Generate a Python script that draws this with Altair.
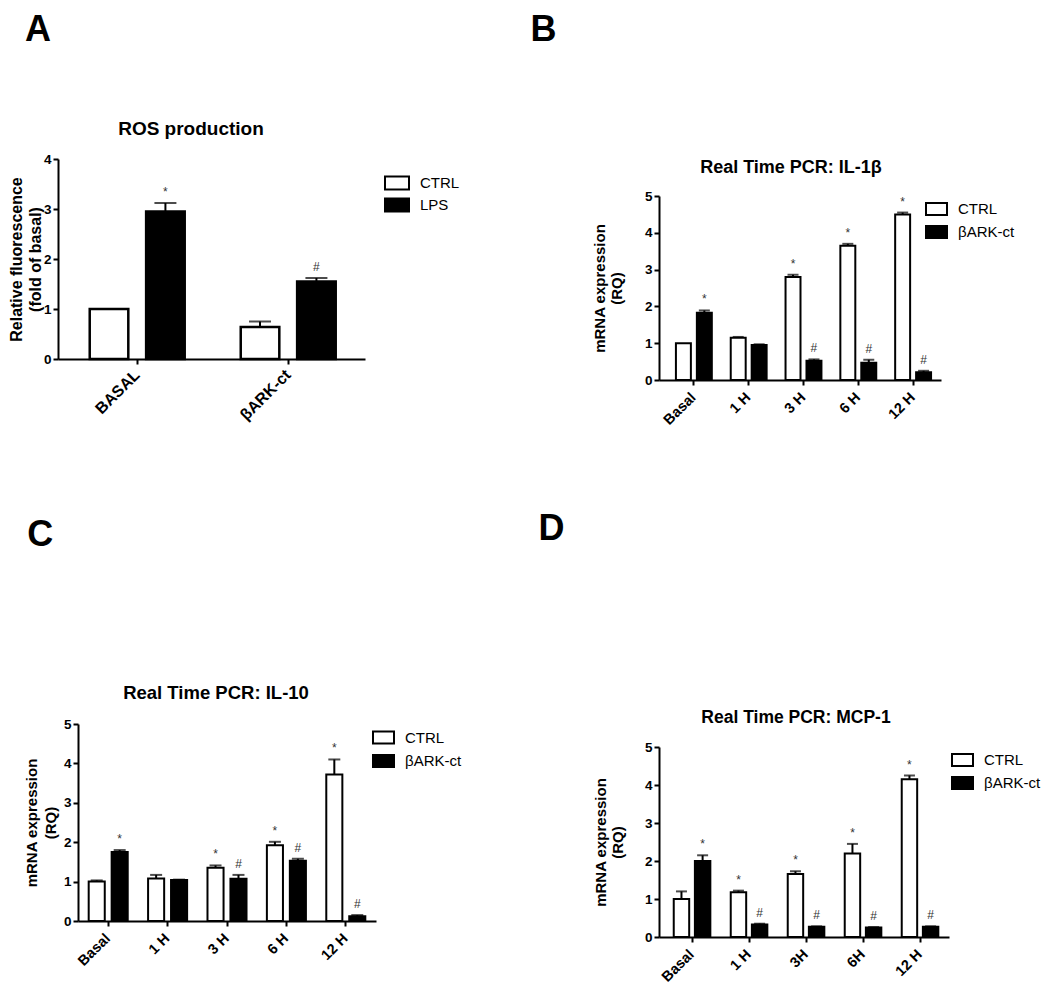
import altair as alt
import pandas as pd

FONT = "Liberation Sans"

# ---------------- data ----------------
# Panel A: ROS production
A_cats = ["BASAL", "βARK-ct"]
A_groups = ["CTRL", "LPS"]
A_ctrl = [1.00, 0.64]
A_ctrl_sem = [0.00, 0.11]
A_ctrl_sig = ["", ""]
A_trt = [2.95, 1.55]
A_trt_sem = [0.17, 0.07]
A_trt_sig = ["*", "#"]

# Panel B: IL-1beta
B_cats = ["Basal", "1 H", "3 H", "6 H", "12 H"]
B_groups = ["CTRL", "βARK-ct"]
B_ctrl = [1.00, 1.15, 2.80, 3.65, 4.50]
B_ctrl_sem = [0.00, 0.02, 0.06, 0.05, 0.05]
B_ctrl_sig = ["", "", "*", "*", "*"]
B_trt = [1.83, 0.95, 0.52, 0.47, 0.21]
B_trt_sem = [0.06, 0.02, 0.04, 0.08, 0.04]
B_trt_sig = ["*", "", "#", "#", "#"]

# Panel C: IL-10
C_cats = ["Basal", "1 H", "3 H", "6 H", "12 H"]
C_groups = ["CTRL", "βARK-ct"]
C_ctrl = [1.00, 1.08, 1.35, 1.92, 3.72]
C_ctrl_sem = [0.03, 0.09, 0.06, 0.09, 0.38]
C_ctrl_sig = ["", "", "*", "*", "*"]
C_trt = [1.75, 1.04, 1.07, 1.53, 0.12]
C_trt_sem = [0.05, 0.01, 0.10, 0.05, 0.03]
C_trt_sig = ["*", "", "#", "#", "#"]

# Panel D: MCP-1
D_cats = ["Basal", "1 H", "3H", "6H", "12 H"]
D_groups = ["CTRL", "βARK-ct"]
D_ctrl = [1.00, 1.18, 1.66, 2.20, 4.15]
D_ctrl_sem = [0.20, 0.04, 0.07, 0.25, 0.10]
D_ctrl_sig = ["", "*", "*", "*", "*"]
D_trt = [2.00, 0.33, 0.27, 0.25, 0.27]
D_trt_sem = [0.15, 0.02, 0.01, 0.01, 0.01]
D_trt_sig = ["*", "#", "#", "#", "#"]


def make_df(cats, groups, v1, s1, m1, v2, s2, m2):
    rows = []
    for i, c in enumerate(cats):
        rows.append(dict(cat=c, grp=groups[0], val=v1[i], sem=s1[i], hi=v1[i] + s1[i], sig=m1[i]))
        rows.append(dict(cat=c, grp=groups[1], val=v2[i], sem=s2[i], hi=v2[i] + s2[i], sig=m2[i]))
    return pd.DataFrame(rows)


def panel(df, cats, groups, p):
    xs = alt.Scale(range=p["xrange"], paddingInner=p["pi"], paddingOuter=p["po"], align=p["align"])
    xo_scale = alt.Scale(paddingInner=p["opi"], paddingOuter=0)
    ys = alt.Scale(domain=[0, p["ymax"]], range=p["yrange"], nice=False, zero=True)

    xaxis = alt.Axis(
        title=None, labelAngle=315, labelAlign="right", labelBaseline="middle",
        labelFont=FONT, labelFontSize=p["xlab"], labelFontWeight="bold", labelColor="black",
        labelPadding=p["xlabpad"], tickSize=5, tickWidth=2, tickColor="black",
        domainColor="black", domainWidth=2, offset=p["xoff"], grid=False, labelOverlap=False,
    )
    yaxis = alt.Axis(
        title=p["ytitle"], values=list(range(p["ymax"] + 1)), tickCount=p["ymax"] + 1, format="d",
        labelFont=FONT, labelFontSize=13.5, labelFontWeight="bold", labelColor="black",
        labelPadding=2, tickSize=5, tickWidth=2, tickColor="black", labelOverlap=False,
        domainColor="black", domainWidth=2, grid=False, offset=p["yoff"],
        titleFont=FONT, titleFontSize=p["ytfs"], titleFontWeight="bold", titleColor="black",
        titlePadding=p["ytpad"], titleLineHeight=p["ytlh"],
    )

    X = alt.X("cat:N", sort=cats, scale=xs, axis=xaxis)
    XO = alt.XOffset("grp:N", sort=groups, scale=xo_scale)
    Y = alt.Y("val:Q", scale=ys, axis=yaxis)
    YH = alt.Y("hi:Q", scale=ys, axis=yaxis)

    base = alt.Chart(df)
    bars = base.mark_bar(stroke="black", strokeWidth=p["bsw"]).encode(
        x=X, xOffset=XO, y=Y,
        fill=alt.Fill(
            "grp:N", sort=groups,
            scale=alt.Scale(domain=groups, range=["white", "black"]),
            legend=alt.Legend(
                orient="none", legendX=p["lx"], legendY=p["ly"], title=None,
                symbolType=p["lshape"], symbolSize=p["lsize"],
                symbolStrokeColor="black", symbolStrokeWidth=2, symbolOpacity=1,
                labelFont=FONT, labelFontSize=15, labelColor="black",
                labelOffset=p["loff"], rowPadding=p["lrow"], padding=0, clipHeight=16,
            ),
        ),
    )
    eb = base.transform_filter("datum.sem > 0.001")
    rule = eb.mark_rule(color="black", strokeWidth=2).encode(
        x=X, xOffset=XO, y=Y, y2="hi:Q",
    )
    cap = eb.mark_tick(color="black", thickness=2, size=p["cap"]).encode(
        x=X, xOffset=XO, y=YH,
    )
    sig = base.transform_filter("datum.sig != ''").mark_text(
        font=FONT, fontSize=12, color="#333333", baseline="alphabetic", dy=-7,
    ).encode(
        x=X, xOffset=XO, y=YH, text="sig:N",
    )
    letter = alt.Chart(pd.DataFrame({"t": [p["letter"]]})).mark_text(
        font=FONT, fontSize=36, fontWeight="bold", color="black", align="left", baseline="top",
    ).encode(text="t:N", x=alt.value(p["letx"]), y=alt.value(p["lety"]))
    title = alt.Chart(pd.DataFrame({"t": [p["title"]]})).mark_text(
        font=FONT, fontSize=p["tfs"], fontWeight="bold", color="black", align="center",
        baseline="alphabetic",
    ).encode(text="t:N", x=alt.value(p["tx"]), y=alt.value(p["ty"]))

    layers = [bars, rule, cap, sig, letter, title]
    if p.get("anchor"):
        anchor = alt.Chart(pd.DataFrame({"t": [0]})).mark_point(
            shape="square", size=1, opacity=0, filled=True, strokeWidth=0,
        ).encode(x=alt.value(p["anchor"][0]), y=alt.value(p["anchor"][1]))
        layers.append(anchor)
    return alt.layer(*layers).properties(width=p["width"], height=p["height"])


box_a = "M-1,-0.54H1V0.54H-1Z"
box_b = "M-1,-0.57H1V0.57H-1Z"

pA = panel(
    make_df(A_cats, A_groups, A_ctrl, A_ctrl_sem, A_ctrl_sig, A_trt, A_trt_sem, A_trt_sig),
    A_cats, A_groups,
    dict(width=318, height=221, xrange=[0, 307], yrange=[200, 0], ymax=4,
         pi=0.371, po=0.202, align=0.52, opi=0.316, xoff=-21, yoff=0,
         xlab=16, xlabpad=8, ytitle=["Relative fluorescence", "(fold of basal)"],
         ytfs=16, ytpad=0, ytlh=19, bsw=2.5, cap=22,
         lx=326, ly=16, lshape=box_a, lsize=576, loff=10, lrow=6,
         letter="A", letx=-33, lety=-145.8, title="ROS production", tfs=19, tx=133, ty=-24,
         anchor=(-49.5, -150.5)),
)
pB = panel(
    make_df(B_cats, B_groups, B_ctrl, B_ctrl_sem, B_ctrl_sig, B_trt, B_trt_sem, B_trt_sig),
    B_cats, B_groups,
    dict(width=282, height=221, xrange=[0, 282], yrange=[221, 37], ymax=5,
         pi=0.345, po=0.245, align=0.63, opi=0.286, xoff=0, yoff=0,
         xlab=14.5, xlabpad=10, ytitle=["mRNA expression", "(RQ)"],
         ytfs=15, ytpad=20, ytlh=17, bsw=2, cap=11,
         lx=266, ly=42, lshape=box_b, lsize=441, loff=10, lrow=7,
         letter="B", letx=-128.6, lety=-145.8, title="Real Time PCR: IL-1β", tfs=18, tx=132, ty=14),
)
pC = panel(
    make_df(C_cats, C_groups, C_ctrl, C_ctrl_sem, C_ctrl_sig, C_trt, C_trt_sem, C_trt_sig),
    C_cats, C_groups,
    dict(width=318, height=197, xrange=[20, 318], yrange=[197, 0], ymax=5,
         pi=0.343, po=0.18, align=0.5, opi=0.30, xoff=0, yoff=-20,
         xlab=14.5, xlabpad=10, ytitle=["mRNA expression", "(RQ)"],
         ytfs=15, ytpad=5, ytlh=19, bsw=2, cap=12,
         lx=314, ly=5.5, lshape=box_b, lsize=441, loff=10, lrow=7.5,
         letter="C", letx=-30.8, lety=-205.6, title="Real Time PCR: IL-10", tfs=18.5, tx=158, ty=-25),
)
pD = panel(
    make_df(D_cats, D_groups, D_ctrl, D_ctrl_sem, D_ctrl_sig, D_trt, D_trt_sem, D_trt_sig),
    D_cats, D_groups,
    dict(width=290, height=213, xrange=[0, 290], yrange=[213, 23], ymax=5,
         pi=0.358, po=0.223, align=0.58, opi=0.27, xoff=0, yoff=0,
         xlab=14.5, xlabpad=10, ytitle=["mRNA expression", "(RQ)"],
         ytfs=15, ytpad=19, ytlh=17, bsw=2, cap=11,
         lx=292, ly=28, lshape=box_b, lsize=441, loff=10, lrow=7,
         letter="D", letx=-120.6, lety=-211.6, title="Real Time PCR: MCP-1", tfs=17.5, tx=137, ty=-1),
)

chart = alt.concat(
    pA, pB, pC, pD, columns=2, spacing={"row": 344, "column": 283},
    align="none", bounds="flush",
).resolve_scale(
    fill="independent", x="independent", y="independent", xOffset="independent",
).resolve_legend(fill="independent").properties(
    padding={"left": 0, "top": 0, "right": 0, "bottom": 8}
).configure_view(strokeWidth=0)

chart.save("out.html", embed_options={"renderer": "svg", "actions": False})
